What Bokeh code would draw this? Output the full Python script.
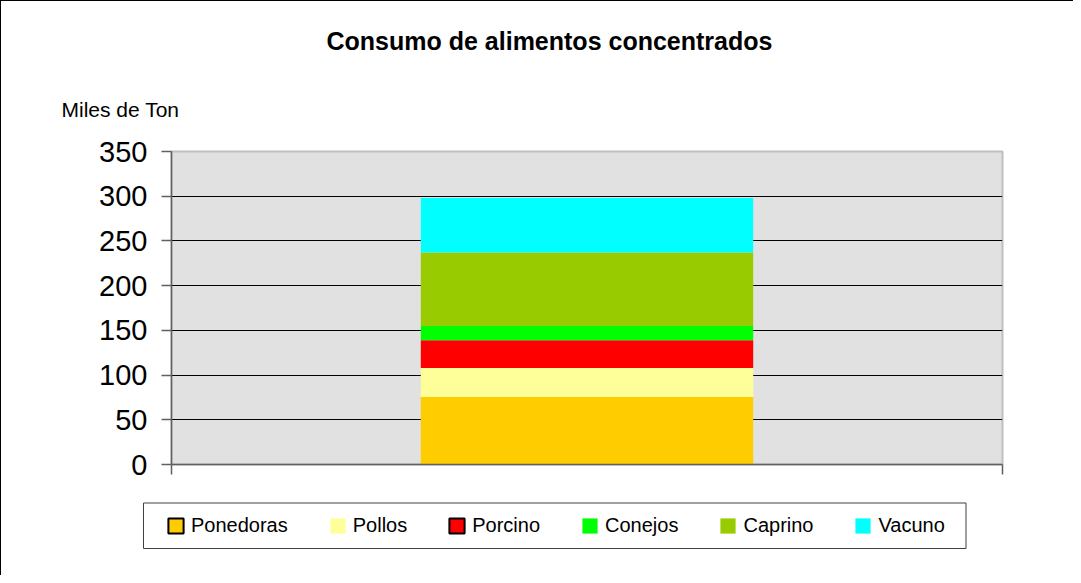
from bokeh.plotting import figure
from bokeh.layouts import column
from bokeh.models import ColumnDataSource, Range1d, FixedTicker, Legend, LegendItem, Title
from bokeh.embed import file_html
from bokeh.resources import INLINE

# ---- data ----
categories = ["Ponedoras", "Pollos", "Porcino", "Conejos", "Caprino", "Vacuno"]
values = [75.5, 32.5, 31, 16, 82, 61]
colors = ["#FFCC00", "#FFFF99", "#FF0000", "#00FF00", "#99CC00", "#00FFFF"]
outlined_in_legend = ["Ponedoras", "Porcino"]
y_ticks = [0, 50, 100, 150, 200, 250, 300, 350]
title_text = "Consumo de alimentos concentrados"
y_label_text = "Miles de Ton"

FONT = "'Liberation Sans', Arial, sans-serif"

W = 1073
H_MAIN = 488
H_LEG = 575 - H_MAIN

data = {"x": [0.5]}
for c, v in zip(categories, values):
    data[c] = [v]
source = ColumnDataSource(data)

p = figure(width=W, height=H_MAIN, x_range=Range1d(0, 1), y_range=Range1d(0, 350),
           output_backend="svg", toolbar_location=None, title=None,
           min_border_left=170, min_border_top=150, min_border_right=72,
           min_border_bottom=H_MAIN - 463,
           background_fill_color="#E1E1E1", border_fill_color="white",
           outline_line_color="#C0C0C0", outline_line_width=2)
p.frame_align = False
p.styles = {"border-top": "1px solid black", "border-left": "1px solid black"}

p.vbar_stack(categories, x="x", width=0.4, source=source,
             fill_color=colors, line_color=None)

# axes
p.yaxis.ticker = FixedTicker(ticks=y_ticks)
p.yaxis.major_label_text_font = FONT
p.yaxis.major_label_text_font_size = "29px"
p.yaxis.major_label_text_color = "black"
p.yaxis.major_tick_out = 10
p.yaxis.major_tick_in = 0
p.yaxis.minor_tick_out = 0
p.yaxis.minor_tick_in = 0
p.yaxis.major_label_standoff = 14
p.yaxis.axis_line_color = "#606060"
p.yaxis.axis_line_width = 1.5
p.yaxis.major_tick_line_color = "#606060"
p.yaxis.major_tick_line_width = 1.5

p.xaxis.ticker = FixedTicker(ticks=[0, 1])
p.xaxis.major_label_overrides = {0: "", 1: ""}
p.xaxis.major_label_text_font_size = "8px"
p.xaxis.major_label_standoff = 0
p.xaxis.major_tick_out = 10
p.xaxis.major_tick_in = 0
p.xaxis.minor_tick_out = 0
p.xaxis.axis_line_color = "#606060"
p.xaxis.axis_line_width = 1.5
p.xaxis.major_tick_line_color = "#606060"
p.xaxis.major_tick_line_width = 1.5

p.xgrid.grid_line_color = None
p.ygrid.ticker = FixedTicker(ticks=y_ticks)
p.ygrid.grid_line_color = "black"
p.ygrid.grid_line_width = 1

# y label (closest to frame) and chart title, in the top panel
p.add_layout(Title(text=y_label_text, align="left", offset=-110, text_font=FONT,
                   text_font_style="normal", text_font_size="21px", text_color="black",
                   standoff=61), "above")
p.add_layout(Title(text=title_text, align="left", offset=155, text_font=FONT,
                   text_font_style="bold", text_font_size="25px", text_color="black",
                   standoff=22), "above")

# ---- legend strip (own figure, pixel-like coordinates, y downward) ----
leg = figure(width=W, height=H_LEG, x_range=Range1d(0, W), y_range=Range1d(H_LEG, 0),
             output_backend="svg", toolbar_location=None, title=None,
             x_axis_type=None, y_axis_type=None,
             min_border=0, outline_line_color=None,
             background_fill_color="white", border_fill_color="white")
leg.frame_align = False
leg.xgrid.grid_line_color = None
leg.ygrid.grid_line_color = None
leg.styles = {"border-left": "1px solid black"}

# legend frame box
leg.quad(left=[142], right=[964.5], top=[502.5 - H_MAIN], bottom=[548 - H_MAIN],
         fill_color=None, line_color="#404040", line_width=1)

items = []
for c, col in zip(categories, colors):
    outlined = c in outlined_in_legend
    r = leg.rect(x=[-1000], y=[-1000], width=1, height=1, fill_color=col,
                 line_color="black" if outlined else None, line_width=2)
    items.append(LegendItem(label=c, renderers=[r]))

legend = Legend(items=items, orientation="horizontal", location=(165, 38),
                border_line_color=None, background_fill_alpha=0,
                padding=0, margin=0, spacing=40, glyph_width=19, glyph_height=19,
                label_height=19, label_standoff=6, label_text_font=FONT,
                label_text_font_size="20px", label_text_color="black",
                label_text_baseline="middle")
leg.add_layout(legend, "center")

layout = column(p, leg, spacing=0)
open("out.html", "w").write(file_html(layout, INLINE))
